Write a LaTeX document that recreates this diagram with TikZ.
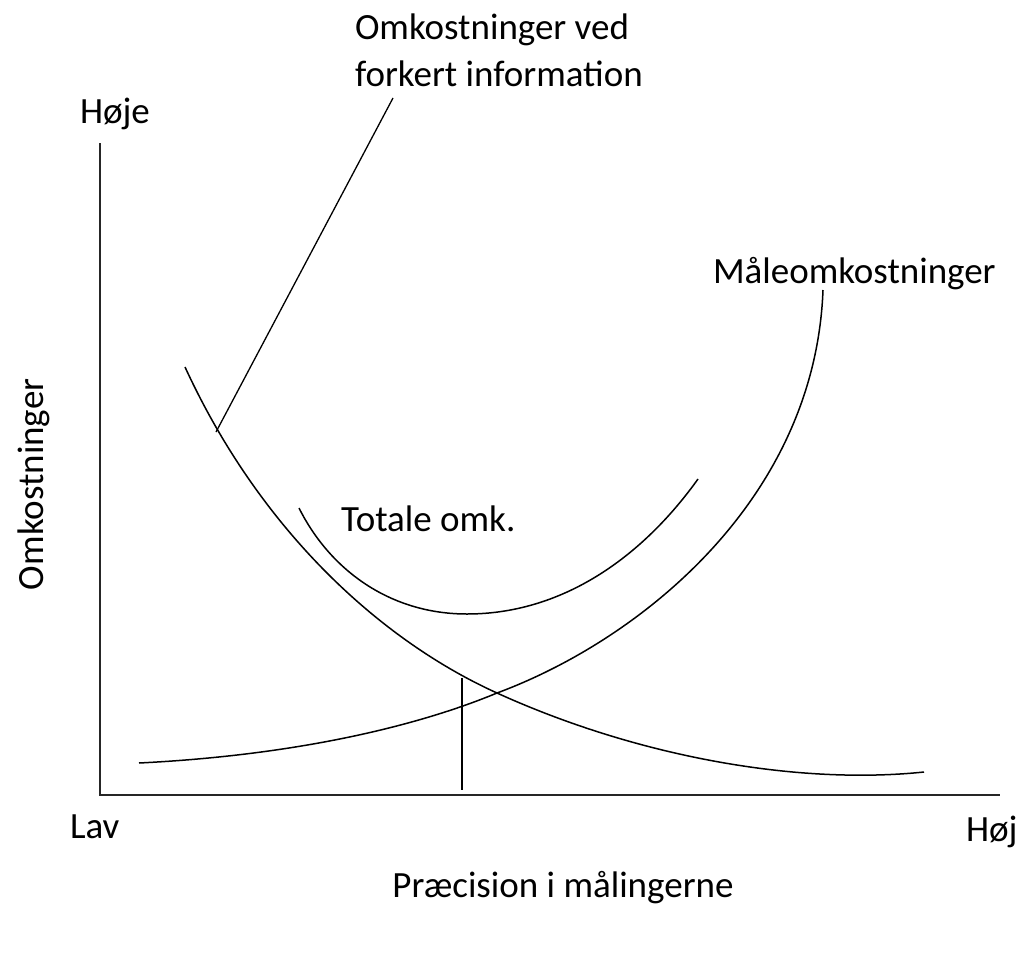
\documentclass[tikz,border=0pt]{standalone}
\usepackage{fontspec}
\setmainfont{Carlito}
\begin{document}
\begin{tikzpicture}[x=1pt,y=-1pt,
  curve/.style={line width=1.5pt,black},
  axis/.style={line width=1.4pt,black!85},
  lbl/.style={inner sep=0pt,outer sep=0pt,font=\fontsize{37}{46}\selectfont}]
\useasboundingbox (0,0) rectangle (1025,966);
% axes
\coordinate (ytop) at (100,143);
\coordinate (orig) at (100,795);
\coordinate (xend) at (1000,795);
\draw[axis] (ytop) -- (orig) -- (xend);
% falling curve (forkert information)
\coordinate (fA) at (185,367);
\coordinate (X) at (497,693);
\coordinate (fB) at (924,772);
\draw[curve] (fA) .. controls (260,530) and (380,640) .. (X)
                  .. controls (640,758) and (800,785) .. (fB);
% rising curve (maaleomkostninger)
\coordinate (rA) at (139,763);
\coordinate (rB) at (823,290);
\draw[curve] (rA) .. controls (300,755) and (420,725) .. (X)
                  .. controls (640,640) and (815,500) .. (rB);
% total
\coordinate (tA) at (299,508);
\coordinate (tM) at (467,614);
\coordinate (tB) at (698,479);
\draw[curve] (tA) .. controls (330,570) and (390,614) .. (tM)
                  .. controls (560,614) and (640,560) .. (tB);
% leader and vertical
\coordinate (lead1) at (216,432);
\coordinate (lead2) at (393,98);
\draw[line width=1.3pt] (lead1) -- (lead2);
\coordinate (v1) at (462,678);
\coordinate (v2) at (462,790);
\draw[line width=1.5pt] (v1) -- (v2);
% labels
\node[lbl,anchor=base west] (forkert1) at (355,40) {Omkostninger ved};
\node[lbl,anchor=base west] (forkert2) at (355,86) {forkert information};
\node[lbl,anchor=base west] (hoeje) at (80,123) {Høje};
\node[lbl,anchor=base west] (maale) at (713,283) {Måleomkostninger};
\node[lbl,anchor=base west] (total) at (341,531) {Totale omk.};
\node[lbl,anchor=base west,rotate=90] (omk) at (43,590) {Omkostninger};
\node[lbl,anchor=base west] (lav) at (70,838) {Lav};
\node[lbl,anchor=base west] (hoej) at (966,841) {Høj};
\node[lbl,anchor=base] (praec) at (563,897) {Præcision i målingerne};
\end{tikzpicture}
\end{document}
